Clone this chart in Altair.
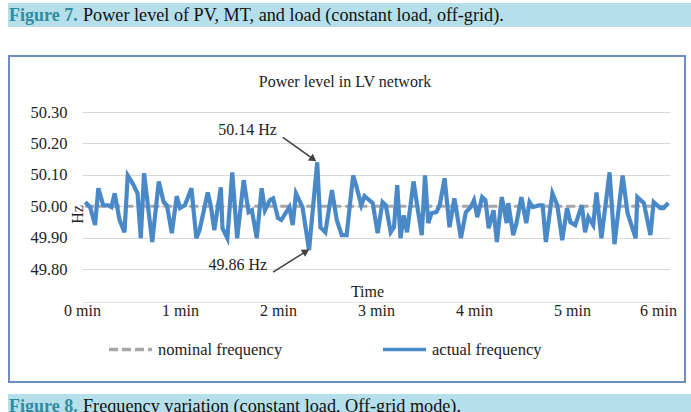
import altair as alt
import pandas as pd

# Sample times (s) and measured LV network frequency (Hz)
time_s = [2, 5, 8, 10, 13, 16, 18, 20, 23, 26, 28, 31, 34, 36, 38, 43, 47, 50, 52, 55,
          58, 60, 63, 67, 70, 72, 77, 79, 81, 85, 86, 89, 92, 95, 99, 102, 104, 107, 110, 112,
          115, 117, 120, 122, 125, 127, 129, 131, 135, 139, 144, 146, 149, 153, 156, 159, 162, 166, 168, 171,
          173, 178, 181, 184, 186, 189, 191, 193, 195, 197, 199, 203, 205, 208, 210, 212, 214, 217, 219, 222,
          225, 228, 232, 235, 238, 240, 242, 245, 247, 249, 252, 254, 257, 260, 261, 264, 266, 269, 272, 274,
          276, 280, 282, 284, 288, 291, 294, 297, 299, 302, 306, 308, 310, 313, 315, 318, 323, 326, 331, 334,
          339, 340, 344, 348, 350, 354, 356, 359]
freq_hz = [50.013, 49.997, 49.940, 50.057, 50.003, 50.003, 49.997, 50.041, 49.956, 49.917,
           50.098, 50.073, 50.041, 49.898, 50.105, 49.886, 50.079, 50.013, 50.003, 49.914,
           50.032, 49.994, 50.003, 50.057, 49.898, 49.924, 50.044, 49.997, 49.924, 50.060,
           49.930, 49.898, 50.108, 49.898, 50.083, 49.981, 49.987, 49.898, 50.057, 49.987,
           50.019, 50.025, 49.962, 49.956, 49.981, 49.997, 49.940, 50.041, 49.997, 49.860,
           50.140, 49.933, 49.917, 50.051, 49.956, 49.908, 49.908, 50.098, 50.063, 50.003,
           50.032, 50.010, 49.914, 50.013, 50.003, 49.917, 49.933, 50.067, 49.898, 49.971,
           49.917, 50.079, 50.010, 49.908, 50.098, 49.946, 49.978, 49.981, 50.003, 50.089,
           49.933, 50.025, 49.898, 49.981, 49.997, 50.019, 49.965, 50.029, 50.019, 49.930,
           49.987, 49.886, 50.029, 49.946, 50.010, 49.908, 49.946, 50.029, 49.946, 50.013,
           49.997, 50.003, 50.003, 49.886, 50.041, 50.003, 49.892, 49.994, 49.949, 49.940,
           50.003, 49.917, 49.965, 49.940, 50.044, 49.898, 50.108, 49.879, 50.098, 49.978,
           49.898, 50.029, 50.010, 49.908, 50.013, 49.994, 49.994, 50.010]
nominal_hz = 50.0

series_names = ["nominal frequency", "actual frequency"]
series_colors = ["#a6a6a6", "#4a89c8"]
series_dashes = [[9, 4], [1, 0]]

x_ticks = [0, 60, 120, 180, 240, 300, 360]
y_ticks = [49.8, 49.9, 50.0, 50.1, 50.2, 50.3]

chart_title = "Power level in LV network"
caption_top = ("Figure 7.", "Power level of PV, MT, and load (constant load, off-grid).")
caption_bottom = ("Figure 8.", "Frequency variation (constant load, Off-grid mode).")

SERIF = "Liberation Serif"
W, H = 588, 157
PAD = {"left": 82, "top": 112, "right": 21, "bottom": 143}

actual = pd.DataFrame({"t": time_s, "f": freq_hz, "series": series_names[1]})
nominal = pd.DataFrame({"t": [time_s[0], time_s[-1]], "f": [nominal_hz] * 2,
                        "series": series_names[0]})

x_scale = alt.Scale(domain=[0, 360], nice=False)
y_scale = alt.Scale(domain=[49.8, 50.3], nice=False, zero=False)

x_axis = alt.Axis(
    values=x_ticks, labelExpr="datum.value / 60 + ' min'", grid=False,
    domain=True, domainColor="#e3e3e3", domainWidth=1, offset=33,
    ticks=False, labelPadding=0, labelFlush=False, labelOverlap=False, labelBound=False,
    labelFont=SERIF, labelFontSize=16, labelColor="#222222",
    # keep the last label inside the frame
    labelOffset={"condition": {"test": "datum.value == 360", "value": -12}, "value": 0},
    title="Time", titleFont=SERIF, titleFontSize=16,
    titleFontWeight="normal", titleColor="#222222", titleX=285, titleY=-11,
    titleBaseline="middle")
y_axis = alt.Axis(
    values=y_ticks, format=".2f", grid=True, gridColor="#d9d9d9", gridWidth=1,
    domain=False, ticks=False, labelPadding=15, labelOverlap=False, labelFont=SERIF,
    labelFontSize=16.5, labelColor="#222222", title="Hz", titleFont=SERIF,
    titleFontSize=16, titleFontWeight="normal", titleColor="#222222", titleAngle=270,
    titleX=-5, titleY=102, titleBaseline="middle")


def xq(field):
    return alt.X(f"{field}:Q", scale=x_scale, axis=x_axis)


def yq(field):
    return alt.Y(f"{field}:Q", scale=y_scale, axis=y_axis)


legend = alt.Legend(title=None, orient="none", legendX=25, legendY=214,
                    direction="horizontal", symbolType="stroke", symbolSize=1850,
                    symbolStrokeWidth=3.5, labelFont=SERIF, labelFontSize=16.5,
                    labelColor="#222222", columnPadding=92, labelOffset=4)
color_enc = alt.Color("series:N", scale=alt.Scale(domain=series_names, range=series_colors),
                      legend=legend)
dash_enc = alt.StrokeDash("series:N", scale=alt.Scale(domain=series_names, range=series_dashes),
                          legend=legend)

nominal_line = alt.Chart(nominal).mark_line(strokeWidth=3).encode(
    x=xq("t"), y=yq("f"), color=color_enc, strokeDash=dash_enc)
actual_line = alt.Chart(actual).mark_line(strokeWidth=4.2, strokeJoin="miter").encode(
    x=xq("t"), y=yq("f"), color=color_enc, strokeDash=dash_enc)

# Callouts for the extreme readings
i_max = freq_hz.index(max(freq_hz))
i_min = freq_hz.index(min(freq_hz))
callouts = pd.DataFrame({
    "t0": [time_s[i_max] - 21, time_s[i_min] - 22],
    "f0": [freq_hz[i_max] + 0.079, freq_hz[i_min] - 0.07],
    "t1": [time_s[i_max] - 3, time_s[i_min] - 2.5],
    "f1": [freq_hz[i_max] + 0.012, freq_hz[i_min] - 0.006],
    "label": [f"{freq_hz[i_max]:.2f} Hz", f"{freq_hz[i_min]:.2f} Hz"],
    "angle": [126, 58],
})

base_c = alt.Chart(callouts)
arrow_shaft = base_c.mark_rule(color="#404040", strokeWidth=1.5).encode(
    x=xq("t0"), y=yq("f0"), x2="t1:Q", y2="f1:Q")
arrow_head = base_c.mark_point(shape="triangle", filled=True, color="#404040",
                               size=70, opacity=1).encode(
    x=xq("t1"), y=yq("f1"), angle=alt.Angle("angle:Q", scale=None))
arrow_text = base_c.mark_text(font=SERIF, fontSize=16, align="right", baseline="middle",
                              dx=-6, dy=-7, color="#222222").encode(
    x=xq("t0"), y=yq("f0"), text="label:N")

one = alt.Data(values=[{}])


def rect(x0, x1, y0, y1, **kw):
    return alt.Chart(one).mark_rect(**kw).encode(
        x=alt.value(x0), x2=alt.value(x1), y=alt.value(y0), y2=alt.value(y1))


def label(txt, x, y, **kw):
    return alt.Chart(one).mark_text(text=txt, font=SERIF, **kw).encode(
        x=alt.value(x), y=alt.value(y))


frame = rect(-73, 603, -56, 270, fill=None, stroke="#6d8dc2", strokeWidth=2)
top_bar = rect(-74, 609, -109, -85, fill="#b5dfea")
bottom_bar = rect(-74, 609, 282, 310, fill="#b5dfea")
top_fig = label(caption_top[0], -73, -96, fontSize=18, fontWeight="bold", color="#2f8ca0",
                align="left", baseline="middle")
top_txt = label(caption_top[1], 1, -96, fontSize=18.2, color="#111111", align="left",
                baseline="middle")
bot_fig = label(caption_bottom[0], -73, 295, fontSize=18, fontWeight="bold", color="#2f8ca0",
                align="left", baseline="middle")
bot_txt = label(caption_bottom[1], 1, 295, fontSize=18.2, color="#111111", align="left",
                baseline="middle")
title = label(chart_title, 263, -30, fontSize=16, color="#222222", align="center",
              baseline="middle")

chart = alt.layer(
    top_bar, bottom_bar, frame, top_fig, top_txt, bot_fig, bot_txt, title,
    nominal_line, actual_line, arrow_shaft, arrow_head, arrow_text,
).properties(
    width=W, height=H, padding=PAD, autosize=alt.AutoSizeParams(type="none"),
    background="white",
).configure_view(stroke=None)

chart.save("out.html", embed_options={"renderer": "svg", "actions": False})
